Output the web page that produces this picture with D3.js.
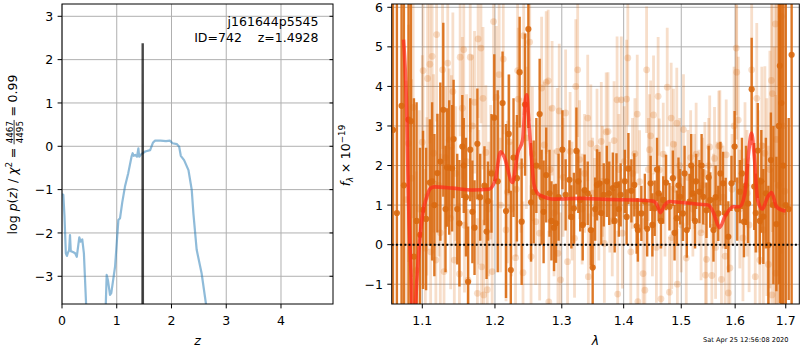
<!DOCTYPE html>
<html><head><meta charset="utf-8">
<script src="https://cdn.jsdelivr.net/npm/d3@7"></script>
<style>body{margin:0;background:#fff} text{font-family:"DejaVu Sans",sans-serif;fill:#000}</style>
</head><body><svg id="c" width="800" height="350" xmlns="http://www.w3.org/2000/svg"></svg>
<script>
// ---------------- DATA ----------------
// left panel: log p(z)
const pzZ = [0.0,0.024,0.045,0.07,0.09,0.11,0.13,0.146,0.16,0.2,0.24,0.27,0.316,0.34,0.37,0.40,0.44,0.55,0.75,0.8,0.816,0.84,0.877,0.9,0.969,1.03,1.06,1.1,1.15,1.21,1.27,1.29,1.31,1.34,1.37,1.395,1.41,1.45,1.52,1.61,1.66,1.70,1.8,1.9,1.97,2.02,2.1,2.14,2.17,2.23,2.31,2.37,2.4,2.46,2.55,2.63,2.75];
const pzLog = [-1.1,-1.12,-1.6,-2.47,-2.53,-2.45,-2.4,-2.05,-2.42,-2.44,-2.47,-2.55,-2.1,-2.2,-2.15,-2.47,-3.64,-6,-6,-3.64,-2.97,-3.1,-3.43,-3.39,-2.78,-1.7,-1.66,-1.3,-0.93,-0.62,-0.24,-0.16,-0.22,-0.2,-0.24,-0.05,-0.24,-0.18,-0.12,-0.09,0.08,0.13,0.13,0.12,0.13,0.07,0.05,-0.01,-0.22,-0.32,-0.55,-1.01,-1.55,-2.39,-2.93,-3.64,-6];
const peakZ = [1.470,1.474,1.478];
const peakLog = [-6,2.38,-6];
const zTicks = [0,1,2,3,4];
const pTicks = [-3,-2,-1,0,1,2,3];
const objName = "j161644p5545";
const objInfo = "ID=742\u00a0\u00a0\u00a0\u00a0z=1.4928";

// right panel: spectrum (dark series)
const darkWave = [1.062,1.067,1.073,1.076,1.082,1.085,1.089,1.0925,1.097,1.101,1.105,1.110,1.113,1.116,1.120,1.124,1.128,1.131,1.133,1.136,1.140,1.142,1.147,1.150,1.154,1.156,1.159,1.162,1.165,1.168,1.171,1.175,1.179,1.185,1.188,1.190,1.195,1.199,1.204,1.211,1.216,1.220,1.223,1.227,1.232,1.236,1.239,1.244,1.249,1.253,1.257,1.261,1.266,1.269,1.272,1.276,1.281,1.284,1.288,1.291,1.295,1.301,1.306,1.312,1.315,1.319,1.323,1.326,1.329,1.333,1.336,1.341,1.346,1.349,1.353,1.356,1.360,1.363,1.367,1.372,1.376,1.382,1.385,1.388,1.392,1.395,1.402,1.405,1.408,1.413,1.418,1.422,1.424,1.430,1.436,1.440,1.446,1.449,1.453,1.457,1.460,1.464,1.468,1.473,1.479,1.485,1.488,1.492,1.495,1.498,1.503,1.506,1.510,1.515,1.518,1.521,1.525,1.527,1.533,1.537,1.540,1.546,1.550,1.553,1.559,1.563,1.568,1.572,1.577,1.582,1.587,1.593,1.599,1.604,1.609,1.613,1.617,1.621,1.625,1.632,1.637,1.640,1.644,1.648,1.651,1.655,1.660,1.665,1.670,1.675,1.681,1.686,1.688,1.691,1.695,1.700,1.706,1.712];
const darkFlux = [2.9,0.8,3.51,1.5,3.16,3.12,-0.3,0.6,0.25,0.88,0.65,1.57,1.6,1.0,1.81,2.1,3.41,0.9,1.95,1.95,1.93,2.67,0.9,0.54,2.48,2.0,1.2,-0.94,2.4,0.83,0.43,2.55,1.2,1.49,0.33,1.1,1.8,3.21,1.6,3.58,0.85,2.8,-0.64,2.2,1.68,4.36,0.58,3.54,5.45,1.07,1.33,2.0,3.3,1.2,0.83,1.76,1.3,0.6,0.43,0.54,1.2,2.4,1.26,1.64,0.7,0.92,2.37,1.6,1.13,0.5,1.38,1.3,0.37,-0.58,0.9,1.51,1.55,0.8,1.26,1.6,1.3,1.43,0.6,1.51,0.9,1.26,1.6,0.7,1.92,1.36,1.51,0.47,0.37,0.79,1.09,0.4,1.55,0.5,0.92,1.9,1.3,0.6,1.13,1.57,0.96,1.68,0.3,0.67,1.5,1.21,0.79,1.8,0.37,1.09,2.0,1.3,0.6,1.6,1.34,2.0,1.21,0.87,1.7,1.13,0.37,1.2,0.79,1.8,1.55,0.79,0.2,1.55,2.48,0.9,1.34,1.8,0.58,1.5,1.04,3.93,1.47,0.8,2.38,0.6,1.6,0.71,1.3,-0.01,2.14,1.0,0.52,3.0,4.52,3.58,2.0,1.0,0.9,4.8];
const darkErr = [7,6,6,7,5,5,4,3,2.2,2.0,1.8,1.6,2.0,1.8,1.5,2.0,2.2,1.6,1.5,1.7,1.6,1.5,1.4,1.6,1.3,1.2,1.5,1.4,1.3,1.3,1.2,1.4,1.1,1.0,1.2,1.0,1.5,1.6,2.3,1.3,2.2,1.5,2.0,1.5,1.6,1.4,1.6,1.8,2.5,1.5,1.3,1.2,1.4,1.2,1.3,1.2,1.1,1.0,1.1,1.0,1.1,1.0,0.9,1.0,0.8,0.9,1.1,0.8,0.8,0.9,0.9,0.8,0.9,1.0,0.8,0.9,0.8,0.8,0.8,0.9,0.8,0.9,0.8,0.8,0.7,0.8,0.8,0.7,0.9,0.8,0.8,0.7,0.8,0.7,0.7,0.7,0.7,0.8,0.7,0.8,0.7,0.7,0.6,0.7,0.6,0.7,0.7,0.7,0.7,0.7,0.7,0.7,0.7,0.7,0.8,0.7,0.7,0.7,0.8,0.8,0.7,0.7,0.8,0.7,0.8,0.8,0.7,0.8,0.8,0.9,0.9,0.7,0.9,0.8,0.8,0.9,0.9,1.0,1.0,1.3,1.1,1.0,1.2,1.1,1.3,1.2,1.4,1.5,1.2,2.0,1.7,4.0,6.0,7.0,8.0,6.0,2.3,6.5];

// right panel: spectrum (light series)
const lightWave = [1.079,1.082,1.086,1.088,1.092,1.096,1.100,1.101,1.104,1.106,1.107,1.110,1.111,1.113,1.115,1.118,1.119,1.122,1.124,1.127,1.129,1.131,1.134,1.136,1.138,1.139,1.141,1.143,1.145,1.150,1.151,1.154,1.156,1.157,1.160,1.162,1.165,1.168,1.171,1.175,1.176,1.177,1.180,1.181,1.183,1.184,1.187,1.189,1.191,1.194,1.196,1.198,1.202,1.206,1.208,1.212,1.216,1.218,1.221,1.224,1.230,1.231,1.233,1.234,1.238,1.241,1.242,1.246,1.251,1.253,1.255,1.260,1.266,1.269,1.273,1.276,1.279,1.280,1.282,1.285,1.288,1.293,1.294,1.296,1.298,1.302,1.306,1.309,1.313,1.316,1.320,1.322,1.325,1.328,1.332,1.336,1.341,1.342,1.346,1.349,1.352,1.356,1.359,1.363,1.365,1.368,1.371,1.374,1.377,1.381,1.384,1.389,1.390,1.392,1.396,1.398,1.401,1.405,1.407,1.412,1.415,1.419,1.423,1.424,1.427,1.433,1.436,1.439,1.442,1.444,1.446,1.449,1.451,1.456,1.459,1.461,1.464,1.468,1.471,1.475,1.479,1.482,1.483,1.486,1.489,1.492,1.493,1.497,1.500,1.504,1.509,1.512,1.517,1.521,1.524,1.527,1.532,1.536,1.539,1.543,1.544,1.546,1.550,1.552,1.556,1.559,1.561,1.563,1.566,1.569,1.571,1.574,1.577,1.581,1.583,1.587,1.590,1.594,1.598,1.602,1.603,1.606,1.609,1.615,1.619,1.623,1.627,1.632,1.639,1.642,1.645,1.648,1.652,1.655,1.658,1.662,1.665,1.668,1.671,1.672,1.673,1.677,1.679,1.680,1.681,1.685,1.691,1.694,1.698];
const lightFlux = [1.14,2.56,1.68,3.47,-0.65,0.9,2.59,4.4,-0.09,1.22,4.2,4.56,-0.18,4.76,2.31,-0.39,5.31,1.5,0.3,4.42,-0.68,2.2,4.59,2.65,0.67,2.48,3.87,-0.39,1.8,-0.74,4.74,3.45,4.93,0.49,2.1,-0.9,4.74,3.0,3.6,-1.23,5.2,1.2,4.97,-0.56,3.7,-1.27,2.33,-1.14,0.9,1.83,-0.68,5.64,3.73,4.3,1.0,4.69,0.37,1.33,2.6,0.9,-0.33,1.4,4.4,3.68,2.0,-0.71,5.28,2.7,5.12,-0.3,2.3,0.58,0.29,3.96,2.52,4.1,4.14,-1.45,1.9,3.45,0.8,2.36,-0.22,3.38,-0.89,1.7,3.33,-0.43,2.36,1.1,0.16,4.0,4.42,2.15,0.9,1.8,3.2,-0.81,2.55,1.3,0.79,2.44,1.0,2.61,1.6,0.03,2.85,2.86,1.2,0.6,2.63,3.66,-1.25,1.9,3.66,0.29,2.1,3.68,4.72,-0.18,1.8,2.3,3.3,-1.44,1.59,-0.73,-1.15,4.42,1.9,2.4,2.75,0.5,3.28,-0.07,3.75,1.89,-1.37,2.29,1.0,3.98,-1.2,3.2,0.18,2.54,1.4,3.07,-1.0,2.0,0.5,2.91,-0.34,1.7,2.2,0.9,1.6,2.29,1.2,0.3,1.5,1.8,-0.77,-0.37,2.0,2.47,-0.78,1.1,2.18,-0.07,1.3,2.49,2.5,-0.88,1.2,-0.29,2.27,-1.22,-0.59,1.4,3.0,4.97,4.36,3.15,0.9,0.17,2.1,1.3,0.5,4.42,-0.81,3.7,1.6,-0.39,2.5,0.37,2.31,1.2,-0.5,1.9,4.15,-1.27,3.82,1.0,5.58,-0.72,2.66,1.5,5.77,3.0,1.35];
const lightErr = [3.0,3.0,2.5,2.8,2.5,2.5,2.2,2.0,2.0,2.0,2.2,2.0,2.2,2.0,2.0,2.0,2.2,1.8,2.0,2.0,1.9,1.8,2.0,1.8,1.8,1.8,2.0,1.8,1.7,1.8,2.0,1.8,2.0,1.7,1.7,1.8,1.9,1.8,1.8,1.9,2.0,1.7,1.9,1.8,1.8,1.9,1.7,1.8,1.7,1.7,1.8,2.0,1.8,1.9,1.7,1.9,1.8,1.8,1.7,1.7,1.8,1.7,1.9,1.8,1.7,1.8,2.0,1.8,2.0,1.8,1.7,1.6,1.7,1.8,1.6,1.8,1.8,1.8,1.6,1.7,1.6,1.6,1.6,1.7,1.7,1.5,1.6,1.6,1.5,1.5,1.5,1.7,1.7,1.5,1.4,1.5,1.6,1.6,1.5,1.4,1.4,1.5,1.4,1.5,1.4,1.5,1.5,1.5,1.4,1.4,1.5,1.6,1.6,1.4,1.6,1.4,1.4,1.5,1.7,1.4,1.4,1.4,1.5,1.6,1.3,1.4,1.5,1.6,1.3,1.4,1.4,1.3,1.5,1.4,1.5,1.3,1.4,1.3,1.3,1.5,1.4,1.4,1.3,1.4,1.2,1.4,1.4,1.2,1.2,1.4,1.3,1.2,1.2,1.2,1.2,1.3,1.2,1.2,1.2,1.3,1.3,1.3,1.2,1.3,1.3,1.2,1.3,1.3,1.3,1.4,1.4,1.4,1.3,1.4,1.4,1.5,1.5,1.4,1.5,1.7,1.7,1.6,1.5,1.6,1.5,1.6,1.7,1.9,1.8,1.9,1.8,2.0,2.0,2.2,2.2,2.5,3.0,3.0,3.0,3.2,3.5,4.0,4.0,4.5,5.0,6.0,6.0,5.0,0.6];

// right panel: model
const modelWave = [1.0755,1.0799,1.0819,1.085,1.0883,1.0925,1.097,1.1014,1.106,1.1106,1.116,1.14,1.1684,1.1914,1.2005,1.208,1.2131,1.2255,1.233,1.2405,1.2445,1.2465,1.249,1.2529,1.258,1.2655,1.2903,1.33,1.38,1.4214,1.4503,1.4573,1.463,1.4705,1.4792,1.4965,1.5334,1.549,1.5582,1.5675,1.5705,1.5805,1.5959,1.6089,1.6188,1.6253,1.6318,1.6371,1.6437,1.653,1.6634,1.6713,1.6812,1.6911,1.6998];
const modelFlux = [5.18,3.15,1.13,-0.6,-2.6,-1.0,0.2,0.88,1.21,1.42,1.46,1.43,1.38,1.40,1.64,2.35,2.23,1.57,2.31,2.65,3.66,3.79,3.3,2.36,1.47,1.26,1.15,1.17,1.14,1.13,1.1,1.0,0.81,1.0,1.09,1.07,1.02,1.0,0.83,0.49,0.43,0.71,0.96,0.96,1.3,2.23,2.82,2.23,1.13,0.9,1.2,1.32,0.96,0.88,0.85];
const lamTicks = [1.1,1.2,1.3,1.4,1.5,1.6,1.7];
const fTicks = [-1,0,1,2,3,4,5,6];
const stamp = "Sat Apr 25 12:56:08 2020";

// ---------------- DRAW ----------------
const svg = d3.select('#c');
const FS = 12.5;
const GRID = '#b0b0b0';
const ORANGE = '#d9690f';
const TL = 4.4, PAD = 4.4;

const L = {x0:62, x1:333, y0:4, y1:304};
const R = {x0:391.7, x1:799.3, y0:4, y1:304};
const xz = d3.scaleLinear().domain([0,4.95]).range([L.x0,L.x1]);
const yp = d3.scaleLinear().domain([-3.64,3.284]).range([L.y1,L.y0]);
const xl = d3.scaleLog().domain([1.0604,1.7278]).range([R.x0,R.x1]);
const yf = d3.scaleLinear().domain([-1.5,6.083]).range([R.y1,R.y0]);

const defs = svg.append('defs');
function clip(id, b){
  defs.append('clipPath').attr('id',id).append('rect')
    .attr('x',b.x0).attr('y',b.y0).attr('width',b.x1-b.x0).attr('height',b.y1-b.y0);
}
clip('cl',L); clip('cr',R);

function frame(b, xs, ys, xt, yt){
  const g = svg.append('g');
  g.selectAll('.gx').data(xt).join('line').attr('class','gx')
    .attr('x1',d=>xs(d)).attr('x2',d=>xs(d)).attr('y1',b.y0).attr('y2',b.y1)
    .attr('stroke',GRID).attr('stroke-width',1);
  g.selectAll('.gy').data(yt).join('line').attr('class','gy')
    .attr('x1',b.x0).attr('x2',b.x1).attr('y1',d=>ys(d)).attr('y2',d=>ys(d))
    .attr('stroke',GRID).attr('stroke-width',1);
  return g;
}
function axesOverlay(b, xs, ys, xt, yt, xfmt, yfmt, rightTicks){
  const g = svg.append('g');
  g.append('rect').attr('x',b.x0).attr('y',b.y0).attr('width',b.x1-b.x0).attr('height',b.y1-b.y0)
    .attr('fill','none').attr('stroke','#000').attr('stroke-width',1);
  g.selectAll('.tx').data(xt).join('line').attr('class','tx')
    .attr('x1',d=>xs(d)).attr('x2',d=>xs(d)).attr('y1',b.y1).attr('y2',b.y1+TL)
    .attr('stroke','#000').attr('stroke-width',1);
  g.selectAll('.lx').data(xt).join('text').attr('class','lx')
    .attr('x',d=>xs(d)).attr('y',b.y1+20.5).attr('text-anchor','middle')
    .attr('font-size',FS).text(xfmt);
  g.selectAll('.ty').data(yt).join('line').attr('class','ty')
    .attr('x1',b.x0-TL).attr('x2',b.x0).attr('y1',d=>ys(d)).attr('y2',d=>ys(d))
    .attr('stroke','#000').attr('stroke-width',1);
  if(rightTicks){
    g.selectAll('.tr').data(yt).join('line').attr('class','tr')
      .attr('x1',b.x1-3.5).attr('x2',b.x1).attr('y1',d=>ys(d)).attr('y2',d=>ys(d))
      .attr('stroke','#000').attr('stroke-width',1);
  }
  g.selectAll('.ly').data(yt).join('text').attr('class','ly')
    .attr('x',b.x0-TL-PAD).attr('y',d=>ys(d)+0.365*FS).attr('text-anchor','end')
    .attr('font-size',FS).text(yfmt);
}

// ---- left panel ----
frame(L, xz, yp, zTicks, pTicks);
const gl = svg.append('g').attr('clip-path','url(#cl)');
const pzLine = d3.line().x(i=>xz(pzZ[i])).y(i=>yp(pzLog[i]));
gl.append('path').attr('d', pzLine(d3.range(pzZ.length)))
  .attr('fill','none').attr('stroke','#1f77b4').attr('stroke-opacity',0.5).attr('stroke-width',2.2)
  .attr('stroke-linejoin','round');
const pkLine = d3.line().x(i=>xz(peakZ[i])).y(i=>yp(peakLog[i]));
gl.append('path').attr('d', pkLine(d3.range(peakZ.length)))
  .attr('fill','#000').attr('fill-opacity',0.72).attr('stroke','#000').attr('stroke-opacity',0.72).attr('stroke-width',2.4);
axesOverlay(L, xz, yp, zTicks, pTicks, d3.format('d'), d3.format('d'), true);
svg.append('text').attr('x',318.5).attr('y',26).attr('text-anchor','end').attr('font-size',FS).text(objName);
svg.append('text').attr('x',318.5).attr('y',41.5).attr('text-anchor','end').attr('font-size',FS).text(objInfo);

// ---- right panel ----
frame(R, xl, yf, lamTicks, fTicks);
const gr = svg.append('g').attr('clip-path','url(#cr)');
function series(g, wave, flux, err, op, r, sw){
  const s = g.append('g');
  s.selectAll('line').data(d3.range(wave.length)).join('line')
    .attr('x1',i=>xl(wave[i])).attr('x2',i=>xl(wave[i]))
    .attr('y1',i=>yf(flux[i]-err[i])).attr('y2',i=>yf(flux[i]+err[i]))
    .attr('stroke',ORANGE).attr('stroke-opacity',op).attr('stroke-width',sw);
  s.selectAll('circle').data(d3.range(wave.length)).join('circle')
    .attr('cx',i=>xl(wave[i])).attr('cy',i=>yf(flux[i])).attr('r',r)
    .attr('fill',ORANGE).attr('fill-opacity',op);
}
series(gr, lightWave, lightFlux, lightErr, 0.22, 3.4, 2.8);
series(gr, darkWave, darkFlux, darkErr, 0.9, 3.1, 2.4);
const mLine = d3.line().x(i=>xl(modelWave[i])).y(i=>yf(modelFlux[i])).curve(d3.curveMonotoneX);
gr.append('path').attr('d', mLine(d3.range(modelWave.length)))
  .attr('fill','none').attr('stroke','#ff2a1a').attr('stroke-opacity',0.72).attr('stroke-width',3.6)
  .attr('stroke-linejoin','round');
gr.append('line').attr('x1',R.x0).attr('x2',R.x1).attr('y1',yf(0)).attr('y2',yf(0))
  .attr('stroke','#000').attr('stroke-width',2).attr('stroke-dasharray','2,2.2');
axesOverlay(R, xl, yf, lamTicks, fTicks, d3.format('.1f'), d3.format('d'), false);

// ---- axis labels ----
svg.append('text').attr('x',(L.x0+L.x1)/2).attr('y',345).attr('text-anchor','middle')
  .attr('font-size',FS).attr('font-style','italic').text('z');
svg.append('text').attr('x',(R.x0+R.x1)/2).attr('y',345).attr('text-anchor','middle')
  .attr('font-size',FS).attr('font-style','italic').text('λ');

function mathLabel(pieces, bx, cy){
  const g = svg.append('g');
  let cx = 0;
  pieces.forEach(p=>{
    if(p.frac){
      const a = g.append('text').attr('font-size',p.fs).attr('y',p.ny).text(p.num);
      const b = g.append('text').attr('font-size',p.fs).attr('y',p.dny).text(p.den);
      const wa = a.node().getComputedTextLength(), wb = b.node().getComputedTextLength();
      const w = Math.max(wa,wb) + 2;
      a.attr('x', cx + (w-wa)/2); b.attr('x', cx + (w-wb)/2);
      g.append('line').attr('x1',cx).attr('x2',cx+w).attr('y1',p.by).attr('y2',p.by)
        .attr('stroke','#000').attr('stroke-width',0.8);
      cx += w + (p.gap||0);
    } else {
      const t = g.append('text').attr('x',cx).attr('y',p.dy||0).attr('font-size',p.fs||FS)
        .attr('font-style',p.it?'italic':'normal').text(p.s);
      cx += t.node().getComputedTextLength() + (p.gap||0);
    }
  });
  g.attr('transform',`translate(${bx},${cy + cx/2}) rotate(-90)`);
}
mathLabel([
  {s:'log', gap:4},
  {s:'p', it:true}, {s:'('}, {s:'z', it:true}, {s:')', gap:4},
  {s:'/', gap:4},
  {s:'χ', it:true}, {s:'2', fs:8.8, dy:-5, gap:3.5},
  {s:'=', gap:3.5},
  {frac:true, num:'4467', den:'4495', fs:8.8, ny:-4.6, dny:5.6, by:-3.2, gap:3.5},
  {s:'=', gap:3.5},
  {s:'0.99'}
], 17.3, 154.5);
mathLabel([
  {s:'f', it:true}, {s:'λ', it:true, fs:8.8, dy:3, gap:3.5},
  {s:'×', gap:3.5}, {s:'10'}, {s:'−19', fs:8.8, dy:-5}
], 349.5, 155.5);

svg.append('text').attr('x',788.5).attr('y',342).attr('text-anchor','end')
  .attr('font-size',6.6).text(stamp);
</script></body></html>
